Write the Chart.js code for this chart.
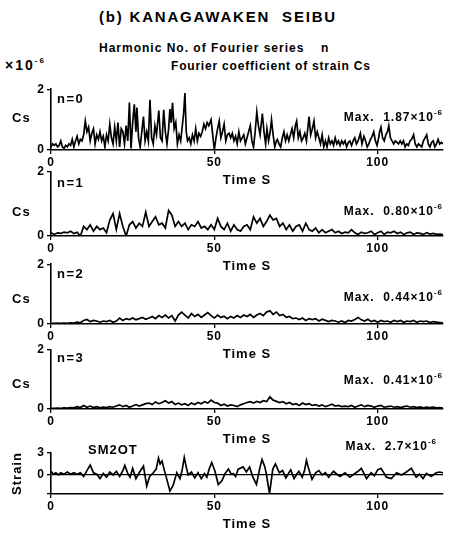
<!DOCTYPE html>
<html>
<head>
<meta charset="utf-8">
<script src="https://cdn.jsdelivr.net/npm/chart.js@4/dist/chart.umd.min.js"></script>
<style>
    body { margin: 0; background: #fff; width: 451px; height: 533px; overflow: hidden; position: relative;
           font-family: "Liberation Sans", Arial, sans-serif; font-weight: bold; color: #000; }
    .panel { position: absolute; left: 0; width: 451px; }
    .lbl { position: absolute; font-size: 12px; line-height: 14px; white-space: nowrap; letter-spacing: 1px; }
    .lbl sup { font-size: 8px; line-height: 0; position: relative; top: -1px; }
</style>
</head>
<body>

<div class="lbl" style="left:99px; top:8px; font-size:15px; line-height:18px; letter-spacing:1.8px;">(b) KANAGAWAKEN&nbsp; SEIBU</div>
<div class="lbl" style="left:99px; top:41px;">Harmonic No. of Fourier series</div>
<div class="lbl" style="left:321px; top:41px;">n</div>
<div class="lbl" style="left:5px; top:58px; font-size:14px; letter-spacing:2px;">×10<sup>-6</sup></div>
<div class="lbl" style="left:171px; top:59px; letter-spacing:0.8px;">Fourier coefficient of strain Cs</div>

<div class="panel" style="top:80px; height:110px;"><canvas id="c0"></canvas></div>
<div class="panel" style="top:160px; height:116px;"><canvas id="c1"></canvas></div>
<div class="panel" style="top:255px; height:109px;"><canvas id="c2"></canvas></div>
<div class="panel" style="top:340px; height:109px;"><canvas id="c3"></canvas></div>
<div class="panel" style="top:440px; height:94px;"><canvas id="c4"></canvas></div>

<div class="lbl" style="left:57px; top:92px; font-size:13px; letter-spacing:1.5px;">n=0</div>
<div class="lbl" style="left:57px; top:176px; font-size:13px; letter-spacing:1.5px;">n=1</div>
<div class="lbl" style="left:57px; top:267px; font-size:13px; letter-spacing:1.5px;">n=2</div>
<div class="lbl" style="left:57px; top:351px; font-size:13px; letter-spacing:1.5px;">n=3</div>
<div class="lbl" style="left:88px; top:443px; font-size:13px; letter-spacing:1px;">SM2OT</div>

<div class="lbl" style="left:12px; top:111px; font-size:13px;">Cs</div>
<div class="lbl" style="left:12px; top:205px; font-size:13px;">Cs</div>
<div class="lbl" style="left:12px; top:292px; font-size:13px;">Cs</div>
<div class="lbl" style="left:12px; top:377px; font-size:13px;">Cs</div>

<div class="lbl" style="right:8px; top:110px;">Max.&nbsp; 1.87×10<sup>-6</sup></div>
<div class="lbl" style="right:8px; top:204px;">Max.&nbsp; 0.80×10<sup>-6</sup></div>
<div class="lbl" style="right:8px; top:290px;">Max.&nbsp; 0.44×10<sup>-6</sup></div>
<div class="lbl" style="right:8px; top:373px;">Max.&nbsp; 0.41×10<sup>-6</sup></div>
<div class="lbl" style="right:14px; top:439px;">Max.&nbsp; 2.7×10<sup>-6</sup></div>

<script>
// n = 0 : time (s) and Fourier coefficient (x10^-6)
const timeN0 = [0, 0.5, 1, 1.5, 2, 2.5, 3, 3.5, 4, 4.5, 5, 5.5, 6, 6.5, 7, 7.5, 8, 8.5, 9, 9.5,
    10, 10.5, 11, 11.5, 12, 12.5, 13, 13.5, 14, 14.5, 15, 15.5, 16, 16.5, 17, 17.5, 18, 18.5, 19, 19.5,
    20, 20.5, 21, 21.5, 22, 22.5, 23, 23.5, 24, 24.5, 25, 25.5, 26, 26.3, 26.8, 27.3, 27.8, 28.3, 28.8, 29.3,
    29.8, 30.3, 30.8, 31.3, 31.8, 32.3, 33, 33.5, 34, 34.5, 35, 35.5, 36, 36.4, 36.8, 37.2, 37.7, 38.2, 38.7, 39.2,
    39.7, 40.2, 40.6, 41, 41.4, 41.8, 42.3, 42.8, 43.3, 43.8, 44.3, 44.8, 45.3, 45.8, 46.3, 46.8, 47.3, 47.8, 48.3, 49,
    49.5, 50, 50.5, 51, 51.5, 52, 52.5, 53, 53.5, 54, 54.5, 55, 55.5, 56, 56.5, 57, 57.5, 58, 58.5, 59,
    59.5, 60, 60.5, 61, 61.5, 62, 62.5, 63, 63.5, 64, 64.7, 65.2, 65.7, 66.1, 66.6, 67.1, 67.5, 68, 68.5, 69,
    69.3, 69.8, 70.3, 70.8, 71.3, 71.8, 72.3, 72.8, 73.3, 73.8, 74.3, 74.8, 75.2, 75.7, 76.2, 76.7, 77.2, 77.7, 78.2, 78.6,
    79, 79.5, 80, 80.5, 81, 81.5, 82, 82.5, 83, 83.5, 84, 84.5, 85, 85.5, 86, 86.5, 87, 87.5, 88, 88.5,
    89, 89.5, 90, 90.5, 91, 91.5, 92, 92.5, 93, 93.5, 94, 94.7, 95.2, 95.8, 96.3, 96.8, 97.3, 97.8, 98.3, 98.8,
    99.3, 99.8, 100.3, 100.6, 101, 101.5, 102, 102.5, 103, 103.4, 103.9, 104.4, 104.9, 105.4, 105.9, 106.4, 106.9, 107.4, 107.9, 108.4,
    108.9, 109.4, 109.9, 110.4, 111, 111.5, 112, 112.5, 113, 113.5, 114, 114.5, 115, 115.5, 116, 116.5, 117, 117.5, 118, 118.5,
    119, 119.5, 120];
const csN0 = [0.1, 0.2, 0.15, 0.2, 0.1, 0.15, 0.3, 0.1, 0.05, 0.15, 0.1, 0.2, 0.15, 0.35, 0.1, 0.3, 0.45, 0.2, 0.35, 0.3,
    0.5, 0.95, 0.6, 0.75, 0.3, 0.55, 0.7, 0.2, 0.5, 0.35, 0.6, 0.3, 0.45, 0.1, 0.5, 0.3, 0.85, 0.4, 0.2, 0.75,
    0.3, 0.9, 0.1, 0.7, 0.6, 0.2, 0.8, 0.3, 1.56, 0.05, 0.9, 1.5, 0.6, 1.4, 0.4, 0.1, 0.6, 1.1, 0.3, 0.6,
    0.3, 1.65, 0.4, 0.2, 0.8, 0.5, 1.3, 0.4, 0.3, 1.32, 0.6, 0.2, 0.7, 1.35, 0.9, 1.55, 0.7, 0.9, 0.2, 0.5,
    0.3, 0.8, 1.2, 1.87, 0.6, 0.3, 0.4, 0.2, 0.5, 0.3, 0.7, 0.3, 0.55, 0.45, 0.6, 0.85, 0.7, 0.9, 0.8, 1.0,
    0.5, 0.0, 0.4, 0.7, 0.95, 0.4, 0.6, 0.85, 0.3, 0.5, 0.55, 0.4, 0.55, 0.3, 0.45, 0.2, 0.6, 0.3, 0.4, 0.5,
    0.2, 0.4, 0.6, 0.8, 0.3, 0.1, 0.6, 1.25, 0.8, 0.5, 1.2, 0.6, 0.2, 0.7, 0.3, 0.6, 1.0, 0.5, 0.1, 0.3,
    0.35, 0.2, 0.1, 0.4, 0.6, 0.3, 0.5, 0.3, 0.5, 0.7, 0.4, 0.8, 0.95, 0.4, 0.6, 0.3, 0.4, 0.55, 0.3, 0.7,
    1.1, 0.5, 0.7, 0.95, 0.4, 0.6, 0.4, 0.2, 0.5, 0.1, 0.3, 0.1, 0.4, 0.2, 0.3, 0.15, 0.4, 0.2, 0.3, 0.15,
    0.3, 0.2, 0.3, 0.1, 0.25, 0.3, 0.15, 0.3, 0.4, 0.2, 0.3, 0.55, 0.2, 0.45, 0.3, 0.1, 0.2, 0.35, 0.45, 0.6,
    0.3, 0.15, 0.4, 0.6, 0.75, 0.4, 0.3, 0.5, 0.6, 0.8, 0.4, 0.3, 0.2, 0.3, 0.25, 0.2, 0.3, 0.2, 0.3, 0.1,
    0.2, 0.15, 0.3, 0.35, 0.5, 0.2, 0.1, 0.2, 0.15, 0.1, 0.3, 0.4, 0.5, 0.2, 0.1, 0.25, 0.3, 0.1, 0.2, 0.35,
    0.2, 0.25, 0.2];

// n = 1, 2, 3 : one reading per second from 0 to 120 s
const SAMPLE_STEP_S = 1;
const csN1 = [0.1, 0.05, 0.1, 0.08, 0.12, 0.1, 0.15, 0.08, 0.12, 0.0, 0.3, 0.2, 0.35, 0.15, 0.3, 0.2, 0.25, 0.1, 0.5, 0.7,
    0.2, 0.7, 0.3, 0.0, 0.35, 0.45, 0.25, 0.4, 0.3, 0.75, 0.3, 0.45, 0.6, 0.35, 0.4, 0.25, 0.8, 0.65, 0.3, 0.45,
    0.3, 0.4, 0.2, 0.35, 0.3, 0.45, 0.25, 0.3, 0.2, 0.35, 0.2, 0.55, 0.3, 0.2, 0.4, 0.15, 0.35, 0.2, 0.15, 0.3,
    0.35, 0.2, 0.6, 0.4, 0.55, 0.3, 0.45, 0.65, 0.5, 0.55, 0.3, 0.4, 0.2, 0.35, 0.15, 0.3, 0.35, 0.15, 0.4, 0.2,
    0.15, 0.25, 0.1, 0.2, 0.1, 0.15, 0.2, 0.1, 0.15, 0.08, 0.12, 0.1, 0.2, 0.1, 0.05, 0.12, 0.08, 0.1, 0.15, 0.05,
    0.1, 0.15, 0.05, 0.12, 0.1, 0.15, 0.08, 0.12, 0.05, 0.1, 0.12, 0.05, 0.1, 0.08, 0.05, 0.1, 0.06, 0.08, 0.05, 0.06,
    0.04];
const csN2 = [0.02, 0.02, 0.03, 0.02, 0.03, 0.02, 0.04, 0.03, 0.06, 0.04, 0.12, 0.15, 0.08, 0.12, 0.1, 0.06, 0.1, 0.08, 0.12, 0.06,
    0.1, 0.2, 0.12, 0.18, 0.15, 0.2, 0.14, 0.18, 0.22, 0.16, 0.2, 0.25, 0.18, 0.28, 0.22, 0.3, 0.2, 0.28, 0.1, 0.3,
    0.4, 0.3, 0.2, 0.35, 0.25, 0.32, 0.22, 0.3, 0.38, 0.28, 0.2, 0.3, 0.22, 0.26, 0.18, 0.25, 0.2, 0.28, 0.22, 0.3,
    0.25, 0.32, 0.22, 0.3, 0.35, 0.28, 0.4, 0.44, 0.32, 0.4, 0.28, 0.32, 0.22, 0.25, 0.18, 0.2, 0.15, 0.2, 0.12, 0.18,
    0.15, 0.18, 0.1, 0.16, 0.12, 0.08, 0.12, 0.1, 0.06, 0.1, 0.05, 0.12, 0.1, 0.15, 0.22, 0.14, 0.1, 0.16, 0.08, 0.12,
    0.06, 0.12, 0.08, 0.1, 0.06, 0.12, 0.08, 0.12, 0.06, 0.1, 0.08, 0.12, 0.06, 0.1, 0.08, 0.1, 0.05, 0.08, 0.06, 0.05,
    0.04];
const csN3 = [0.02, 0.02, 0.03, 0.02, 0.04, 0.03, 0.05, 0.04, 0.08, 0.05, 0.12, 0.06, 0.1, 0.05, 0.08, 0.04, 0.06, 0.05, 0.08, 0.06,
    0.1, 0.14, 0.08, 0.12, 0.06, 0.1, 0.15, 0.1, 0.14, 0.18, 0.2, 0.15, 0.24, 0.18, 0.22, 0.28, 0.2, 0.25, 0.15, 0.2,
    0.14, 0.18, 0.12, 0.2, 0.15, 0.22, 0.18, 0.25, 0.2, 0.3, 0.22, 0.2, 0.12, 0.16, 0.1, 0.14, 0.12, 0.08, 0.14, 0.18,
    0.22, 0.25, 0.2, 0.26, 0.22, 0.28, 0.25, 0.41, 0.3, 0.26, 0.22, 0.25, 0.18, 0.22, 0.15, 0.18, 0.12, 0.2, 0.15, 0.18,
    0.12, 0.15, 0.1, 0.14, 0.08, 0.12, 0.16, 0.1, 0.12, 0.08, 0.1, 0.08, 0.12, 0.06, 0.1, 0.14, 0.08, 0.12, 0.1, 0.06,
    0.1, 0.12, 0.06, 0.08, 0.1, 0.06, 0.08, 0.05, 0.08, 0.1, 0.06, 0.08, 0.05, 0.07, 0.04, 0.06, 0.05, 0.06, 0.04, 0.05,
    0.03];

// SM2OT strain record (x10^-6)
const timeStrain = [0, 0.7, 1.5, 2.3, 3, 4, 5, 6, 7, 8, 9, 10, 11, 12, 13, 14, 15, 16, 17, 18,
    19, 20, 21, 22, 22.6, 23.5, 24.2, 25, 26, 27, 28.3, 29.3, 30.2, 31.3, 32.2, 32.9, 33.4, 34, 34.6, 35.4,
    36.4, 37.4, 38.5, 39.5, 40.2, 40.8, 41.5, 42, 43, 44, 45, 46, 47, 47.7, 48.5, 49.2, 50.2, 51.2, 52.3, 53.3,
    54.3, 55.2, 55.8, 56.5, 57.3, 58.8, 59.8, 60.8, 61.8, 62.9, 63.9, 64.6, 65.4, 65.9, 66.9, 67.9, 68.7, 69.9, 70.9, 71.9,
    72.7, 73.4, 74.4, 75.2, 75.9, 76.9, 77.6, 78.2, 78.9, 79.9, 81, 82, 83, 84, 85, 86.5, 87.5, 88.5, 90, 91.5,
    93, 94, 95, 96.6, 98, 99, 100, 101, 102.7, 104.2, 105.8, 107.3, 108.8, 110.3, 111.8, 112.8, 113.9, 114.9, 116.4, 117.9,
    119, 120];
const strainSM2OT = [0.5, 0.1, 0.3, 0.0, 0.3, 0.1, 0.4, 0.1, 0.3, 0.1, 0.3, -0.2, 0.6, 1.35, 0.3, 0.1, -0.5, 0.2, -0.3, 0.4,
    0.0, 0.5, -0.2, 0.6, 1.3, 0.2, -0.3, 0.9, -0.5, 0.3, 1.2, -1.5, -0.2, 0.3, 0.8, 2.3, 1.5, 1.9, 0.8, -0.5,
    -2.2, -1.4, 0.3, -0.5, 0.8, 2.4, 0.9, 0.0, 0.4, -0.4, 0.3, -0.5, 0.2, -0.3, 0.9, 1.7, 0.5, -1.3, -0.8, 0.2,
    0.8, 0.1, 0.2, -0.2, 0.8, 1.1, 0.4, 1.1, -0.3, -1.3, 0.9, 2.1, 1.2, 0.2, -2.55, 0.8, 1.5, 0.3, 0.6, -0.4,
    0.2, 0.7, -0.5, 0.1, 0.5, -0.3, 0.6, 2.0, 0.8, -0.6, 0.3, 0.6, 0.0, 0.3, -0.3, 0.5, 0.1, -0.2, 0.3, -0.3,
    0.2, 0.5, 0.9, -0.5, 0.3, -0.1, 0.7, 0.9, -0.3, -0.5, 0.3, 0.0, 0.4, 0.9, -0.3, 0.1, -0.5, 0.2, -0.2, 0.3,
    0.4, 0.3];

const xTickValues = [0, 50, 100];
const csTickValues = [0, 2];
const strainTickValues = [-2.6, 0, 3];

const boldFont = { family: '"Liberation Sans", Arial, sans-serif', weight: 'bold', size: 12 };

// canvas letter spacing so the labels look like the typed original
const spacingPlugin = {
    id: 'spacing',
    beforeDraw(chart) { chart.ctx.letterSpacing = '1px'; }
};

function toPoints(times, values) {
    return values.map((v, i) => ({ x: times[i], y: v }));
}

function evenPoints(values) {
    return values.map((v, i) => ({ x: i * SAMPLE_STEP_S, y: v }));
}

function makePanel(id, points, yMin, yMax, yTicks, padTop, isStrain) {
    const ctx = document.getElementById(id).getContext('2d');
    return new Chart(ctx, {
        type: 'line',
        data: {
            datasets: [{
                data: points,
                borderColor: '#000',
                borderWidth: 1.7,
                pointRadius: 0,
                tension: 0,
                fill: false
            }]
        },
        options: {
            responsive: true,
            maintainAspectRatio: false,
            animation: false,
            layout: { padding: { top: padTop, right: 8, left: 0, bottom: 0 } },
            plugins: { legend: { display: false }, tooltip: { enabled: false } },
            scales: {
                x: {
                    type: 'linear',
                    min: 0,
                    max: 120,
                    afterBuildTicks: (scale) => { scale.ticks = xTickValues.map(v => ({ value: v })); },
                    afterFit: (scale) => { scale.height = 40; },
                    ticks: { color: '#000', font: boldFont, padding: 1, maxRotation: 0, autoSkip: false },
                    grid: { drawOnChartArea: false, tickLength: 4, color: '#000', lineWidth: 1.3 },
                    border: { color: '#000', width: 1.6 },
                    title: {
                        display: true, text: 'Time S', color: '#000',
                        font: { ...boldFont, size: 13 }, padding: { top: 0, bottom: 2 }
                    }
                },
                y: {
                    min: yMin,
                    max: yMax,
                    afterBuildTicks: (scale) => { scale.ticks = yTicks.map(v => ({ value: v })); },
                    afterFit: (scale) => { scale.width = 51; },
                    ticks: {
                        color: '#000', font: boldFont, padding: 2, autoSkip: false,
                        callback: (v) => (v < 0 ? '' : v)
                    },
                    grid: {
                        drawOnChartArea: isStrain,
                        tickLength: 4,
                        tickColor: '#000',
                        color: (c) => (c.tick && c.tick.value === 0 ? '#000' : 'rgba(0,0,0,0)'),
                        lineWidth: 1.3
                    },
                    border: { color: '#000', width: 1.6 },
                    title: {
                        display: isStrain, text: 'Strain', color: '#000',
                        font: { ...boldFont, size: 13 }, padding: { top: 10 }
                    }
                }
            }
        },
        plugins: [spacingPlugin]
    });
}

makePanel('c0', toPoints(timeN0, csN0), 0, 2, csTickValues, 9, false);
makePanel('c1', evenPoints(csN1), 0, 2, csTickValues, 12, false);
makePanel('c2', evenPoints(csN2), 0, 2, csTickValues, 9, false);
makePanel('c3', evenPoints(csN3), 0, 2, csTickValues, 10, false);
makePanel('c4', toPoints(timeStrain, strainSM2OT), -2.6, 3, strainTickValues, 13, true);
</script>
</body>
</html>
